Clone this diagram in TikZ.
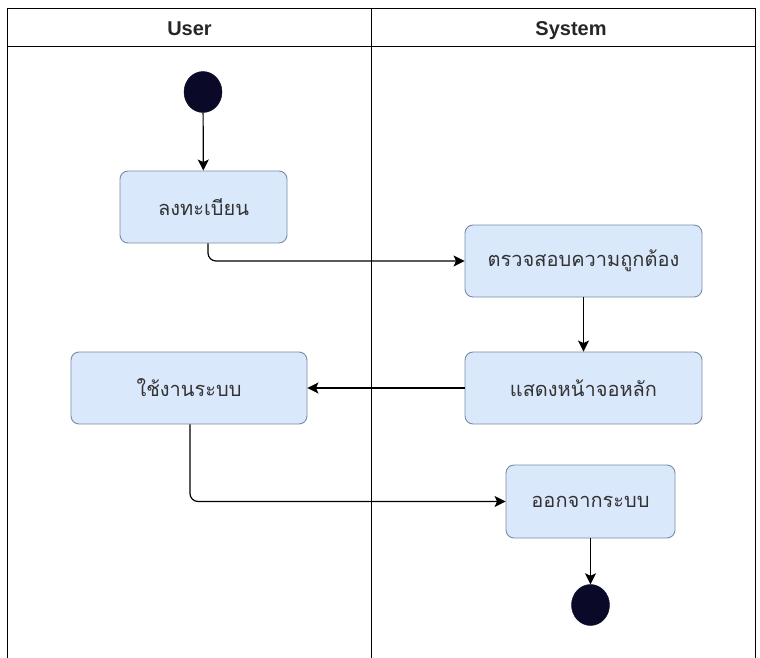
\documentclass[tikz,border=0pt]{standalone}
\usepackage{fontspec}
\setmainfont{Liberation Sans}
\newfontfamily\thaifont[Script=Thai]{Loma}
\usetikzlibrary{arrows.meta,shapes.geometric}
\definecolor{boxfill}{HTML}{DAE8FC}
\definecolor{boxline}{HTML}{7A8BA6}
\definecolor{dotfill}{HTML}{0A0A28}
\begin{document}
\begin{tikzpicture}[x=1pt,y=-1pt,
  lane/.style={draw=black, line width=0.9pt},
  act/.style={draw=boxline, fill=boxfill, rounded corners=8pt, line width=0.9pt,
    font=\thaifont\fontsize{20}{24}\selectfont, inner sep=0pt, text=black!80},
  dot/.style={ellipse, fill=dotfill, draw=dotfill, inner sep=0pt, minimum width=38pt, minimum height=41pt},
  arr/.style={draw=black, line width=1.2pt, -{Stealth[length=11pt,width=11pt,inset=2.5pt]}},
  hdr/.style={font=\bfseries\fontsize{20}{24}\selectfont, text=black!85, anchor=base}]
\useasboundingbox (0,0) rectangle (760,658);
\fill[white] (0,0) rectangle (760,658);
% swimlanes
\draw[lane] (7,658) -- (7,8) -- (755,8) -- (755,658);
\draw[lane] (7,46) -- (755,46);
\draw[lane] (371,8) -- (371,658);
\node[hdr] (huser) at (189.5,36) {User};
\node[hdr] (hsys) at (571,36) {System};
% nodes
\node[dot] (start) at (203,92) {};
\node[act, minimum width=167pt, minimum height=72pt] (reg) at (203.5,207) {ลงทะเบียน};
\node[act, minimum width=237pt, minimum height=72pt] (chk) at (583.5,261) {ตรวจสอบความถูกต้อง};
\node[act, minimum width=237pt, minimum height=72pt] (show) at (583.5,388) {แสดงหน้าจอหลัก};
\node[act, minimum width=236pt, minimum height=72pt] (use) at (189,388) {ใช้งานระบบ};
\node[act, minimum width=169pt, minimum height=73pt] (out) at (590.5,501.5) {ออกจากระบบ};
\node[dot] (end) at (590.5,605) {};
% connectors
\draw[arr] (start) -- (reg);
\draw[arr, rounded corners=8pt] ([xshift=4.5pt]reg.south) |- (chk.west);
\draw[arr] (chk.south) -- (show.north);
\draw[arr] (show.west) -- (use.east);
\draw[arr, rounded corners=8pt] ([xshift=1pt]use.south) |- (out.west);
\draw[arr] (out.south) -- (end.north);
\end{tikzpicture}
\end{document}
